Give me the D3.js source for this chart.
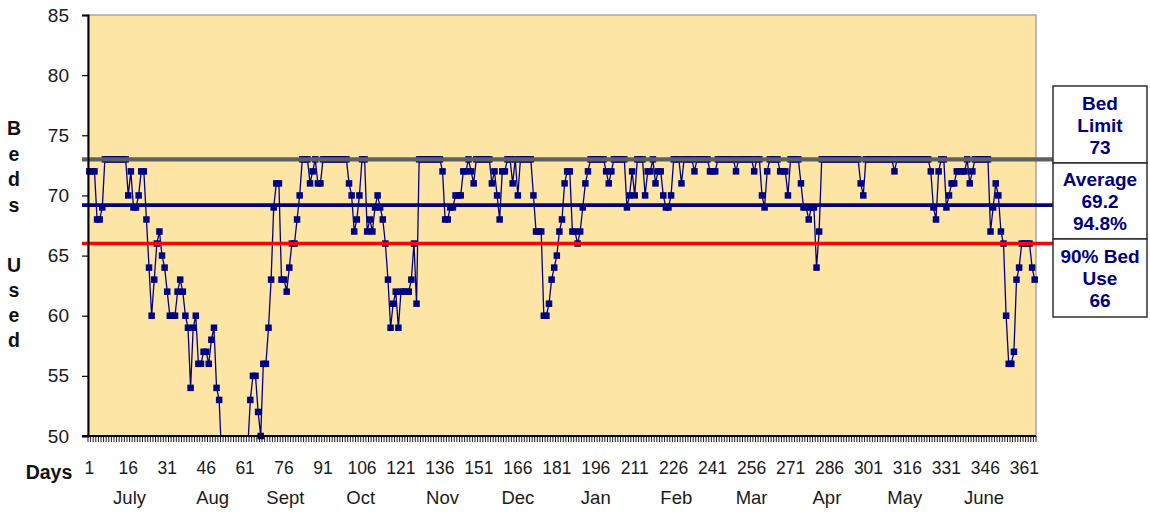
<!DOCTYPE html>
<html>
<head>
<meta charset="utf-8">
<script src="https://cdn.jsdelivr.net/npm/d3@7"></script>
<style>
  html, body { margin: 0; padding: 0; background: #ffffff; }
  svg { display: block; font-family: "Liberation Sans", Arial, sans-serif; }
</style>
</head>
<body>
<svg id="chart" width="1150" height="514"></svg>
<script>
// ---- data ----
const days = d3.range(1, 366);
const bedsUsed = [
  72,72,72,68,68,69,73,73,73,73,73,73,73,73,73,
  70,72,69,69,70,72,72,68,64,60,63,66,67,65,64,
  62,60,60,60,62,63,62,60,59,54,59,60,56,56,57,
  57,56,58,59,54,53,48,47,46,46,45,45,46,47,47,
  48,49,53,55,55,52,50,56,56,59,63,69,71,71,63,
  63,62,64,66,66,68,70,73,73,73,71,72,73,71,71,
  73,73,73,73,73,73,73,73,73,73,71,70,67,68,70,
  73,73,67,68,67,69,70,69,68,66,63,59,61,62,59,
  62,62,62,62,63,66,61,73,73,73,73,73,73,73,73,
  73,72,68,68,69,69,70,70,70,72,72,73,72,71,73,
  73,73,73,73,73,71,72,70,68,72,72,73,73,71,73,
  70,73,73,73,73,73,70,67,67,67,60,60,61,63,64,
  65,67,68,71,72,72,67,67,66,67,69,71,72,73,73,
  73,73,73,73,72,71,72,73,73,73,73,73,69,70,72,
  70,73,73,73,70,72,72,73,71,72,72,70,69,69,70,
  73,73,73,71,73,73,73,73,72,73,73,73,73,73,72,
  72,72,73,73,73,73,73,73,73,72,73,73,73,73,73,
  73,72,73,73,70,69,72,73,73,73,73,72,72,72,70,
  73,73,73,73,71,69,69,68,69,69,64,67,73,73,73,
  73,73,73,73,73,73,73,73,73,73,73,73,71,70,73,
  73,73,73,73,73,73,73,73,73,73,72,73,73,73,73,
  73,73,73,73,73,73,73,73,73,72,69,68,72,73,73,
  69,70,71,71,72,72,72,72,73,71,72,73,73,73,73,
  73,73,67,69,71,70,67,66,60,56,56,57,63,64,66,
  66,66,66,64,63
];
const yTicks = [50, 55, 60, 65, 70, 75, 80, 85];
const dayTickLabels = d3.range(1, 366, 15);
const months = ["July", "Aug", "Sept", "Oct", "Nov", "Dec", "Jan", "Feb", "Mar", "Apr", "May", "June"];
const monthAnchorDays = [16.5, 48.5, 76.5, 105.5, 137, 166, 196, 227, 256, 285, 315, 345.5];
const bedLimit = 73;
const averageBeds = 69.2;
const averageUse = "94.8%";
const bedUse90 = 66;
const yTitleTop = ["B", "e", "d", "s"];
const yTitleBottom = ["U", "s", "e", "d"];

// ---- layout ----
const svg = d3.select("#chart");
const plot = { left: 88, right: 1036, top: 15, bottom: 436 };
const NAVY = "#000080";

const x = d3.scaleBand().domain(days).range([plot.left, plot.right]).padding(0);
const xc = d => x(d) + x.bandwidth() / 2;
const y = d3.scaleLinear().domain([50, 85]).range([plot.bottom, plot.top]);

// plot background
svg.append("rect")
  .attr("x", plot.left).attr("y", plot.top)
  .attr("width", plot.right - plot.left).attr("height", plot.bottom - plot.top)
  .attr("fill", "#FCE5A5")
  .attr("stroke", "#a6a6a6").attr("stroke-width", 1.5);

svg.append("defs").append("clipPath").attr("id", "plotClip")
  .append("rect")
  .attr("x", plot.left).attr("y", plot.top)
  .attr("width", plot.right - plot.left).attr("height", plot.bottom - plot.top);

// ---- series ----
const series = days.map((d, i) => ({ day: d, v: bedsUsed[i] }));

svg.append("path")
  .datum(series)
  .attr("clip-path", "url(#plotClip)")
  .attr("fill", "none")
  .attr("stroke", NAVY)
  .attr("stroke-width", 1.3)
  .attr("stroke-linejoin", "round")
  .attr("d", d3.line().x(d => xc(d.day)).y(d => y(d.v)));

const mk = 6.5;
svg.append("g").selectAll("rect")
  .data(series.filter(d => d.v >= 50))
  .join("rect")
  .attr("x", d => xc(d.day) - mk / 2)
  .attr("y", d => y(d.v) - mk / 2)
  .attr("width", mk).attr("height", mk)
  .attr("fill", NAVY);

// ---- reference lines to the side boxes ----
const boxLeft = 1053, boxRight = 1147;
const refLines = [
  { v: bedLimit, color: "#606060", w: 4.2 },
  { v: averageBeds, color: NAVY, w: 3.8 },
  { v: bedUse90, color: "#FF0000", w: 3.6 }
];
svg.append("g").selectAll("line")
  .data(refLines)
  .join("line")
  .attr("x1", plot.left - 6).attr("x2", boxLeft)
  .attr("y1", d => y(d.v)).attr("y2", d => y(d.v))
  .attr("stroke", d => d.color)
  .attr("stroke-width", d => d.w);

// ---- y axis ----
const yAxis = svg.append("g")
  .attr("transform", `translate(${plot.left},0)`)
  .call(d3.axisLeft(y).tickValues(yTicks).tickSize(6).tickPadding(13));
yAxis.select(".domain").attr("stroke", "#000").attr("stroke-width", 2);
yAxis.selectAll(".tick line").attr("stroke", "#000").attr("stroke-width", 1.2);
yAxis.selectAll(".tick text")
  .attr("font-size", 19).attr("fill", "#1a1a1a")
  .attr("font-family", "Liberation Sans, Arial, sans-serif");

// ---- x axis: one tick per day boundary ----
const boundaries = days.map(d => x(d)).concat([plot.right]);
const xg = svg.append("g");
xg.selectAll("line.tk")
  .data(boundaries)
  .join("line")
  .attr("class", "tk")
  .attr("x1", d => d).attr("x2", d => d)
  .attr("y1", plot.bottom).attr("y2", plot.bottom + 6)
  .attr("stroke", "#000").attr("stroke-width", 0.9);
xg.append("line")
  .attr("x1", plot.left - 6).attr("x2", plot.right)
  .attr("y1", plot.bottom).attr("y2", plot.bottom)
  .attr("stroke", "#000").attr("stroke-width", 2);

xg.selectAll("text.day")
  .data(dayTickLabels)
  .join("text")
  .attr("class", "day")
  .attr("x", d => xc(d))
  .attr("y", 474)
  .attr("text-anchor", "middle")
  .attr("font-size", 17.5).attr("fill", "#1a1a1a")
  .text(d => d);

xg.selectAll("text.month")
  .data(months)
  .join("text")
  .attr("class", "month")
  .attr("x", (m, i) => plot.left + (monthAnchorDays[i] - 0.5) * x.bandwidth())
  .attr("y", 504)
  .attr("text-anchor", "middle")
  .attr("font-size", 18.5).attr("fill", "#1a1a1a")
  .text(m => m);

svg.append("text")
  .attr("x", 49).attr("y", 479)
  .attr("text-anchor", "middle")
  .attr("font-size", 19.5).attr("font-weight", "bold").attr("fill", "#111")
  .text("Days");

// ---- stacked y title ----
const yTitle = svg.append("g").attr("font-size", 19.5).attr("font-weight", "bold").attr("fill", "#111");
yTitle.selectAll("text.t1")
  .data(yTitleTop).join("text").attr("class", "t1")
  .attr("x", 14).attr("y", (c, i) => 135 + i * 25.6)
  .attr("text-anchor", "middle").text(c => c);
yTitle.selectAll("text.t2")
  .data(yTitleBottom).join("text").attr("class", "t2")
  .attr("x", 14).attr("y", (c, i) => 271.5 + i * 25.2)
  .attr("text-anchor", "middle").text(c => c);

// ---- side boxes ----
const boxes = [
  { top: 86, bottom: 163, lines: ["Bed", "Limit", String(bedLimit)] },
  { top: 163, bottom: 239, lines: ["Average", String(averageBeds), averageUse] },
  { top: 239, bottom: 317, lines: ["90% Bed", "Use", String(bedUse90)] }
];
const bg = svg.append("g");
boxes.forEach(b => {
  bg.append("rect")
    .attr("x", boxLeft).attr("y", b.top)
    .attr("width", boxRight - boxLeft).attr("height", b.bottom - b.top)
    .attr("fill", "#fff").attr("stroke", "#222").attr("stroke-width", 1.4);
  const mid = (b.top + b.bottom) / 2;
  b.lines.forEach((t, i) => {
    bg.append("text")
      .attr("x", (boxLeft + boxRight) / 2)
      .attr("y", mid + (i - 1) * 22 + 7)
      .attr("text-anchor", "middle")
      .attr("font-size", 19).attr("font-weight", "bold")
      .attr("fill", NAVY)
      .text(t);
  });
});
</script>
</body>
</html>
